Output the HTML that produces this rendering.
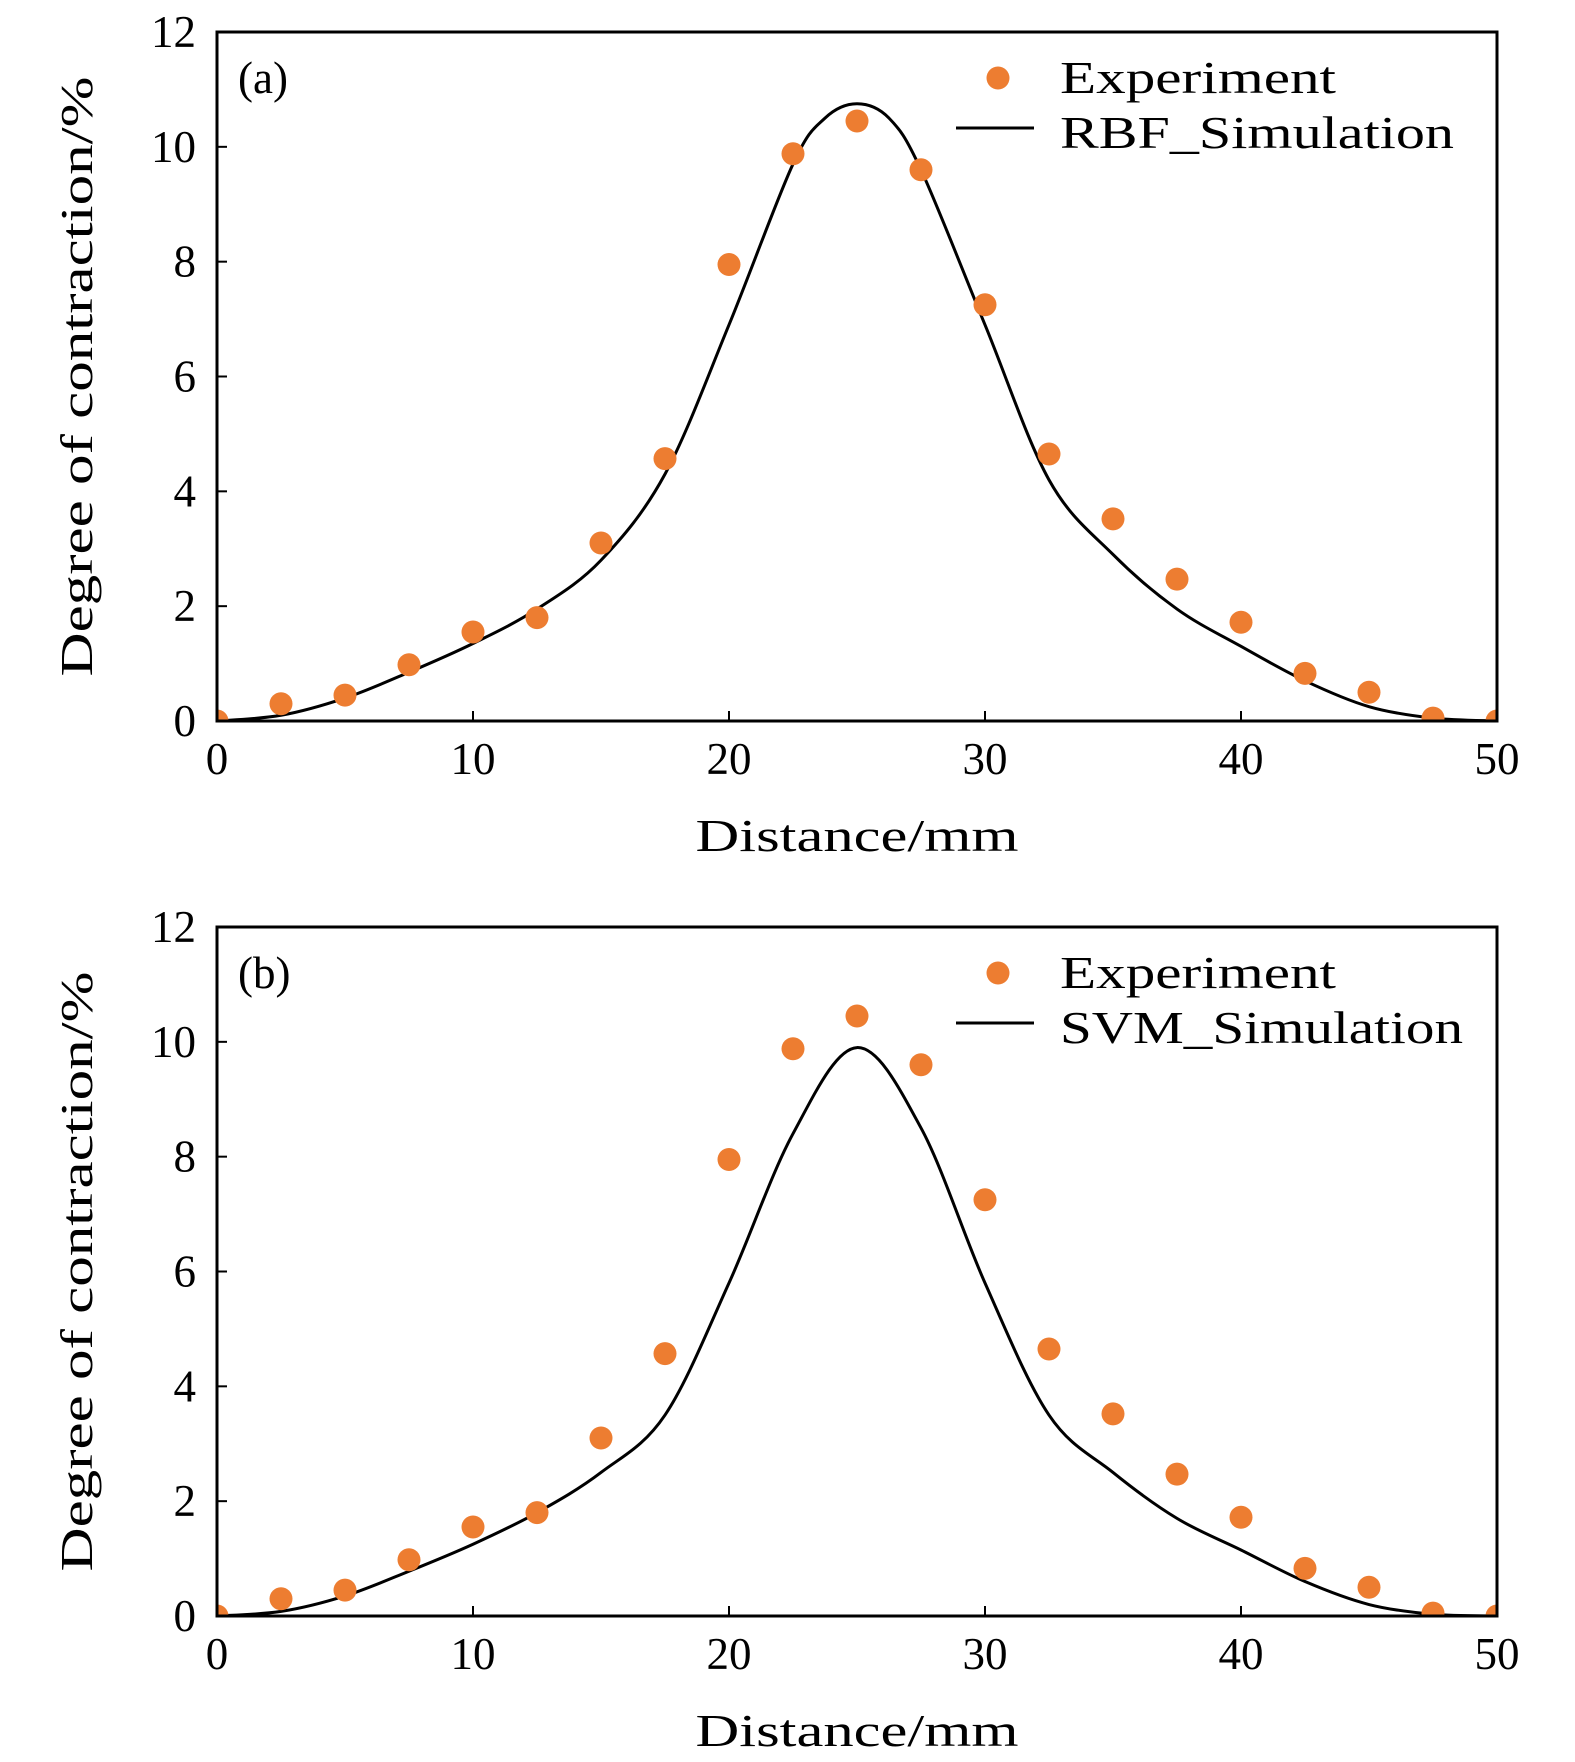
<!DOCTYPE html>
<html><head><meta charset="utf-8"><style>
html,body{margin:0;padding:0;background:#fff;}
svg{display:block;font-family:"Liberation Serif",serif;}
</style></head><body>
<svg id="chart" width="1575" height="1762" viewBox="0 0 1575 1762" xmlns="http://www.w3.org/2000/svg"></svg>
<script>
const xValues = [0,2.5,5,7.5,10,12.5,15,17.5,20,22.5,25,27.5,30,32.5,35,37.5,40,42.5,45,47.5,50];
const experimentValues = [0,0.3,0.45,0.98,1.55,1.8,3.1,4.57,7.95,9.88,10.45,9.6,7.25,4.65,3.52,2.47,1.72,0.83,0.5,0.05,0];
const rbfX = [0,2.5,5,7.5,10,12.5,15,17.5,20,22.5,23.75,25,26.25,27.5,30,32.5,35,37.5,40,42.5,45,47.5,50];
const rbfValues = [0,0.1,0.4,0.85,1.35,1.95,2.8,4.3,6.9,9.7,10.5,10.75,10.5,9.6,6.9,4.2,2.9,1.95,1.3,0.7,0.25,0.05,0];
const svmX = [0,2.5,5,7.5,10,12.5,15,17.5,20,22.5,25,27.5,30,32.5,35,37.5,40,42.5,45,47.5,50];
const svmValues = [0,0.08,0.35,0.78,1.25,1.8,2.5,3.5,5.8,8.4,9.9,8.5,5.8,3.5,2.5,1.7,1.15,0.6,0.2,0.03,0];
const xTicks = [0,10,20,30,40,50];
const yTicks = [0,2,4,6,8,10,12];

const NS="http://www.w3.org/2000/svg";
const svg=document.getElementById('chart');
function mk(tag,attrs,parent){const e=document.createElementNS(NS,tag);for(const k in attrs)e.setAttribute(k,attrs[k]);(parent||svg).appendChild(e);return e;}

function panel(top,label,simX,simY,simName,key){
  const L=217,R=1497,T=top,B=top+689;
  const g=mk('g',{});
  
  
  const sx=v=>L+(v-0)/50*(R-L);
  const sy=v=>B-(v/12)*(B-T);
  xTicks.forEach(t=>{
    const l=mk('line',{x1:sx(t),x2:sx(t),y1:B,y2:B-10,stroke:'#000','stroke-width':2},g);
    
    
    const tx=mk('text',{x:sx(t),y:B+53,'font-size':45,'text-anchor':'middle'},g);
    tx.textContent=t;
    
    
  });
  yTicks.forEach(t=>{
    const l=mk('line',{x1:L,x2:L+10,y1:sy(t),y2:sy(t),stroke:'#000','stroke-width':2},g);
    
    
    const tx=mk('text',{x:L-21,y:sy(t)+15,'font-size':45,'text-anchor':'end'},g);
    tx.textContent=t;
    
    
  });
  const pts=simX.map((x,i)=>[sx(x),sy(simY[i])]);
  let d='M'+pts[0][0]+','+pts[0][1];
  for(let i=0;i<pts.length-1;i++){
    const p0=pts[Math.max(0,i-1)],p1=pts[i],p2=pts[i+1],p3=pts[Math.min(pts.length-1,i+2)];
    const c1=[p1[0]+(p2[0]-p0[0])/6,p1[1]+(p2[1]-p0[1])/6];
    const c2=[p2[0]-(p3[0]-p1[0])/6,p2[1]-(p3[1]-p1[1])/6];
    d+=` C${c1[0]},${c1[1]} ${c2[0]},${c2[1]} ${p2[0]},${p2[1]}`;
  }
  const clip=mk('clipPath',{id:'clip'+key},g);
  mk('rect',{x:L,y:T,width:R-L,height:B-T},clip);
  const path=mk('path',{d:d,fill:'none',stroke:'#000','stroke-width':3,'clip-path':'url(#clip'+key+')'},g);
  
  
  const dg=mk('g',{'clip-path':'url(#clip'+key+')'},g);
  xValues.forEach((x,i)=>{
    const c=mk('circle',{cx:sx(x),cy:sy(experimentValues[i]),r:11.5,fill:'#ED7D31'},dg);
    
    
  });
  const frame=mk('rect',{x:L,y:T,width:R-L,height:B-T,fill:'none',stroke:'#000','stroke-width':3},g);
  
  
  const pl=mk('text',{x:238,y:T+61,'font-size':45},g);
  pl.textContent=label;
  
  
  const lm=mk('circle',{cx:998,cy:T+46,r:11.5,fill:'#ED7D31'},g);
  
  
  const lt=mk('text',{x:1060,y:T+61,'font-size':46,textLength:276,lengthAdjust:'spacingAndGlyphs'},g);
  lt.textContent='Experiment';
  
  
  const ll=mk('line',{x1:956,x2:1034,y1:T+96,y2:T+96,stroke:'#000','stroke-width':3},g);
  
  
  const lt2=mk('text',{x:1060,y:T+116,'font-size':46,textLength:(key==='a'?394:403),lengthAdjust:'spacingAndGlyphs'},g);
  lt2.textContent=simName;
  
  
  const xt=mk('text',{x:(L+R)/2,y:B+130,'font-size':46,'text-anchor':'middle',textLength:323,lengthAdjust:'spacingAndGlyphs'},g);
  xt.textContent='Distance/mm';
  
  
  const cy=(T+B)/2;
  const yt=mk('text',{x:0,y:0,'font-size':46,'text-anchor':'middle',textLength:600,lengthAdjust:'spacingAndGlyphs',transform:`translate(92,${cy}) rotate(-90)`},g);
  yt.textContent='Degree of contraction/%';
  
  
}
panel(32,'(a)',rbfX,rbfValues,'RBF_Simulation','a');
panel(927,'(b)',svmX,svmValues,'SVM_Simulation','b');
</script>
</body></html>
